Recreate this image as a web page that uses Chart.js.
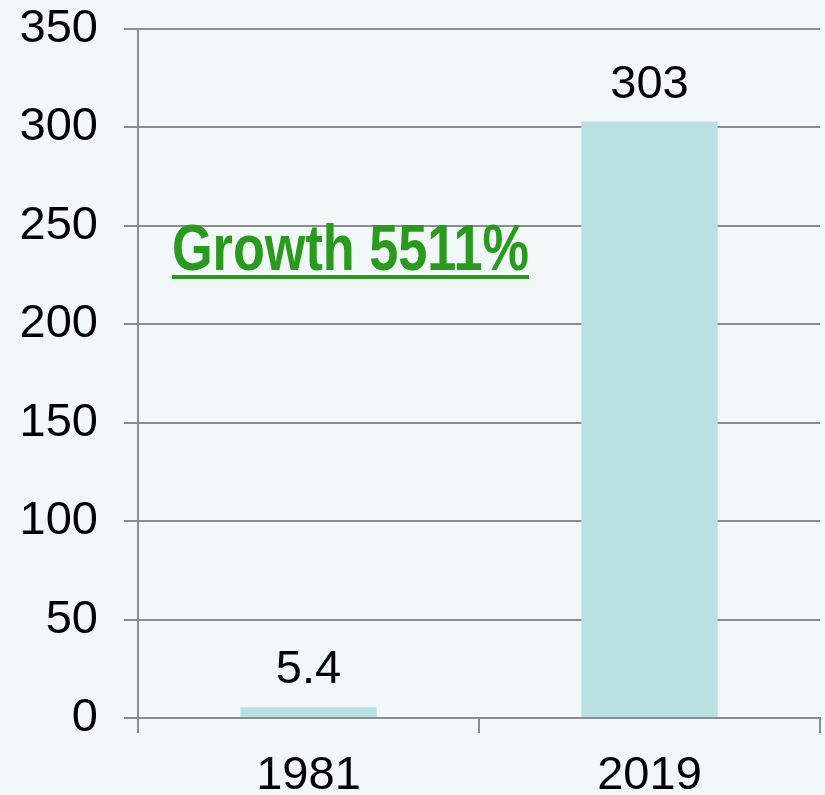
<!DOCTYPE html>
<html>
<head>
<meta charset="utf-8">
<script src="https://cdn.jsdelivr.net/npm/chart.js@4"></script>
<style>
  html, body { margin: 0; padding: 0; background: #f2f8f8; }
  #wrap { width: 825px; height: 795px; }
</style>
</head>
<body>
<div id="wrap"><canvas id="myChart" width="825" height="795"></canvas></div>
<script>
'use strict';

// chart data
var years = ["1981", "2019"];
var values = [5.4, 303];
var valueLabels = ["5.4", "303"];
var growthText = "Growth 5511%";

var FONT = "'Liberation Sans', Arial, sans-serif";
var GRID = "#8c8c8c";

// value labels above each bar
var barLabels = {
	id: "barLabels",
	afterDatasetsDraw: function(chart) {
		var ctx = chart.ctx;
		var meta = chart.getDatasetMeta(0);
		ctx.save();
		ctx.font = "47px " + FONT;
		ctx.fillStyle = "#000";
		ctx.textAlign = "center";
		ctx.textBaseline = "alphabetic";
		meta.data.forEach(function(bar, i) {
			ctx.fillText(valueLabels[i], bar.x, bar.y - 24);
		});
		ctx.restore();
	}
};

// green underlined note
var growthNote = {
	id: "growthNote",
	afterDraw: function(chart) {
		var ctx = chart.ctx;
		var x = 172, y = 270, w = 357;
		ctx.save();
		ctx.font = "bold 65px " + FONT;
		ctx.fillStyle = "#2a9a1e";
		ctx.textAlign = "left";
		ctx.textBaseline = "alphabetic";
		ctx.fillText(growthText, x, y, w);
		ctx.fillRect(x, y + 5, w, 4);
		ctx.restore();
	}
};

var chart = new Chart(document.getElementById("myChart"), {
	type: "bar",
	data: {
		labels: years,
		datasets: [{
			data: values,
			backgroundColor: "#b9e0e3",
			borderWidth: 0,
			categoryPercentage: 1,
			barPercentage: 0.4
		}]
	},
	options: {
		responsive: false,
		animation: false,
		layout: { padding: { top: 29, right: 5, left: 0, bottom: 0 } },
		plugins: {
			legend: { display: false },
			tooltip: { enabled: false }
		},
		scales: {
			x: {
				grid: {
					display: true,
					drawOnChartArea: false,
					drawTicks: true,
					tickLength: 15,
					color: GRID,
					lineWidth: 2
				},
				border: { display: true, color: GRID, width: 2 },
				ticks: {
					color: "#000",
					font: { size: 47, family: FONT },
					padding: 15
				},
				afterFit: function(scale) {
					scale.height = 77;
					scale.paddingLeft = 0;
					scale.paddingRight = 0;
				}
			},
			y: {
				min: 0,
				max: 350,
				ticks: {
					stepSize: 50,
					color: "#000",
					font: { size: 47, family: FONT },
					padding: 26
				},
				grid: {
					color: GRID,
					lineWidth: 2,
					tickLength: 14
				},
				border: { display: true, color: GRID, width: 2 },
				afterFit: function(scale) {
					scale.width = 138;
					scale.paddingTop = 0;
					scale.paddingBottom = 0;
				}
			}
		}
	},
	plugins: [barLabels, growthNote]
});
</script>
</body>
</html>
